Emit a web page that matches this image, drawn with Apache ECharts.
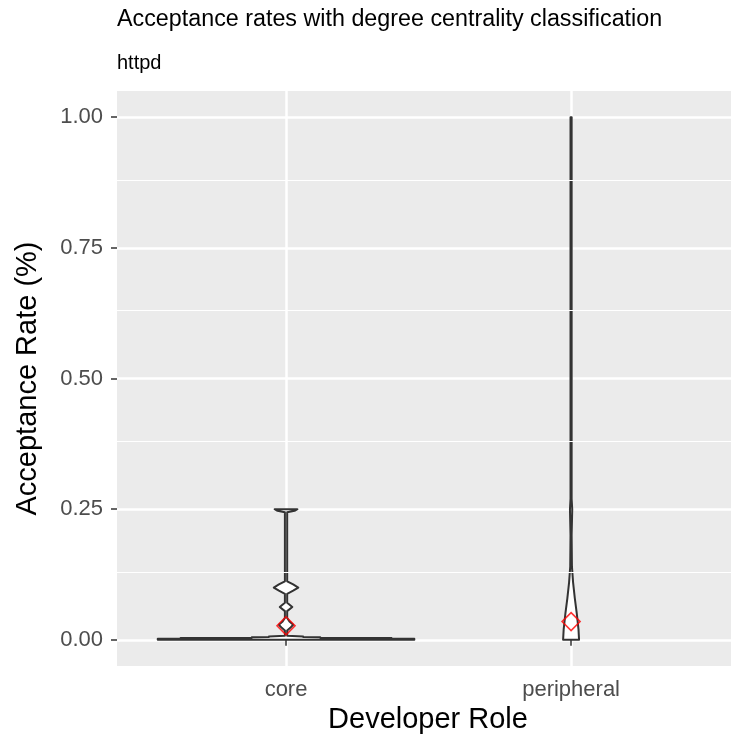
<!DOCTYPE html>
<html>
<head>
<meta charset="utf-8">
<script src="https://cdn.jsdelivr.net/npm/echarts@6/dist/echarts.min.js"></script>
<style>
  html, body { margin: 0; padding: 0; background: #fff; }
  #chart { width: 731px; height: 742px; }
</style>
</head>
<body>
<div id="chart"></div>
<script>
// categories and tick labels
const categories = ['core', 'peripheral'];
const yTicks = [0, 0.25, 0.5, 0.75, 1];
const yMinorTicks = [0.125, 0.375, 0.625, 0.875];

// violin outlines: y value and half width (in category units)
const coreY =     [0, 0.002, 0.0025, 0.0035, 0.004, 0.005, 0.0055, 0.0065, 0.008, 0.018, 0.023, 0.029, 0.035, 0.042, 0.055, 0.063, 0.071, 0.088, 0.094, 0.100, 0.106, 0.112, 0.244, 0.247, 0.25];
const coreWidth = [0.45, 0.45, 0.37, 0.37, 0.12, 0.12, 0.06, 0.06, 0.004, 0.004, 0.015, 0.025, 0.012, 0.004, 0.004, 0.022, 0.004, 0.004, 0.025, 0.043, 0.025, 0.004, 0.004, 0.03, 0.04];
const periY =     [0, 0.02, 0.05, 0.08, 0.11, 0.14, 0.2, 0.25, 0.27, 0.5, 1.0];
const periWidth = [0.028, 0.026, 0.02, 0.013, 0.007, 0.003, 0.002, 0.004, 0.002, 0.002, 0.002];

// mean of each group (red diamonds)
const meanValues = [0.027, 0.035];

const profiles = [
  { y: coreY, w: coreWidth },
  { y: periY, w: periWidth }
];

const chart = echarts.init(document.getElementById('chart'));

const option = {
  backgroundColor: '#fff',
  animation: false,
  title: [
    {
      text: 'Acceptance rates with degree centrality classification',
      left: 117, top: 8, padding: 0,
      textStyle: { fontFamily: 'Liberation Sans', fontSize: 23.3, fontWeight: 'normal', color: '#000' }
    },
    {
      text: 'httpd',
      left: 117, top: 53, padding: 0,
      textStyle: { fontFamily: 'Liberation Sans', fontSize: 20, fontWeight: 'normal', color: '#000' }
    }
  ],
  grid: {
    left: 117, right: 0, top: 91, bottom: 76,
    show: true, backgroundColor: '#EBEBEB', borderWidth: 0
  },
  xAxis: {
    type: 'value', min: 0.407, max: 2.561,
    name: 'Developer Role', nameLocation: 'middle', nameGap: 36,
    nameTextStyle: { fontFamily: 'Liberation Sans', fontSize: 29, color: '#000', padding: [0, 0, 0, 8] },
    axisLine: { show: false },
    axisTick: { show: true, length: 6, customValues: [1, 2], lineStyle: { color: '#333', width: 1.5 } },
    axisLabel: {
      customValues: [1, 2], margin: 13,
      fontFamily: 'Liberation Sans', fontSize: 22, color: '#4D4D4D',
      formatter: v => categories[Math.round(v) - 1]
    },
    splitLine: { show: true, lineStyle: { color: '#fff', width: 2.5 } }
  },
  yAxis: {
    type: 'value', min: -0.05, max: 1.05,
    name: 'Acceptance Rate (%)', nameLocation: 'middle', nameGap: 75,
    nameTextStyle: { fontFamily: 'Liberation Sans', fontSize: 29, color: '#000' },
    axisLine: { show: false },
    axisTick: { show: true, length: 6, customValues: yTicks, lineStyle: { color: '#333', width: 1.5 } },
    axisLabel: {
      customValues: yTicks, margin: 14,
      fontFamily: 'Liberation Sans', fontSize: 22, color: '#4D4D4D',
      formatter: v => v.toFixed(2)
    },
    splitLine: { show: true, lineStyle: { color: '#fff', width: 2.5 } }
  },
  series: [
    {
      // minor grid lines
      type: 'line', data: [], z: 1, silent: true,
      markLine: {
        silent: true, symbol: 'none', label: { show: false },
        lineStyle: { color: '#fff', width: 1.2, type: 'solid' },
        data: yMinorTicks.map(v => ({ yAxis: v }))
      }
    },
    {
      type: 'custom', z: 3,
      data: categories.map((c, i) => [i + 1]),
      renderItem: (params, api) => {
        const cx = api.value(0);
        const p = profiles[params.dataIndex];
        const pts = [];
        for (let i = 0; i < p.y.length; i++) pts.push(api.coord([cx + p.w[i], p.y[i]]));
        for (let i = p.y.length - 1; i >= 0; i--) pts.push(api.coord([cx - p.w[i], p.y[i]]));
        return {
          type: 'polygon',
          shape: { points: pts },
          style: { fill: '#fff', stroke: '#333', lineWidth: 2, lineJoin: 'round' }
        };
      }
    },
    {
      type: 'scatter', z: 4,
      symbol: 'diamond', symbolSize: 18,
      itemStyle: { color: 'rgba(0,0,0,0)', borderColor: '#FF0000', borderWidth: 1.6 },
      data: meanValues.map((m, i) => [i + 1, m])
    }
  ]
};

chart.setOption(option);
</script>
</body>
</html>
